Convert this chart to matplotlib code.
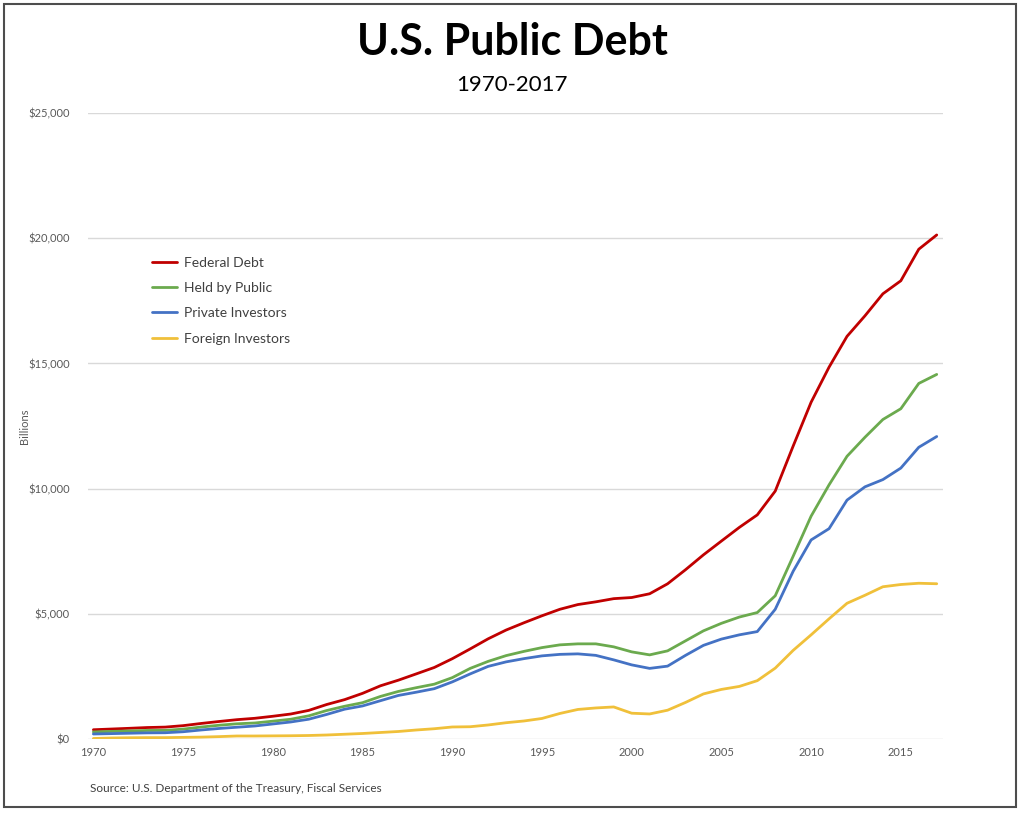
import matplotlib
matplotlib.use("Agg")
import matplotlib.pyplot as plt
from matplotlib.patches import Rectangle
from matplotlib.ticker import FuncFormatter

plt.rcParams['font.family'] = ['Lato', 'DejaVu Sans']

years = list(range(1970, 2018))

federal_debt = [370, 398, 427, 458, 475, 533, 620, 699, 772, 827,
                908, 998, 1142, 1377, 1572, 1823, 2125, 2350, 2602, 2857,
                3206, 3598, 4001, 4351, 4643, 4921, 5181, 5369, 5478, 5605,
                5650, 5800, 6198, 6760, 7355, 7905, 8451, 8951, 9900, 11700,
                13450, 14850, 16080, 16900, 17780, 18300, 19560, 20130]

held_by_public = [283, 303, 322, 341, 344, 395, 477, 549, 607, 640,
                  712, 789, 925, 1137, 1307, 1450, 1700, 1900, 2050, 2190,
                  2450, 2820, 3100, 3330, 3500, 3650, 3760, 3800, 3800, 3680,
                  3480, 3360, 3520, 3920, 4320, 4620, 4870, 5050, 5720, 7300,
                  8900, 10150, 11290, 12050, 12760, 13190, 14200, 14560]

private_investors = [200, 215, 230, 245, 250, 290, 360, 420, 470, 520,
                     600, 680, 790, 980, 1190, 1320, 1530, 1740, 1870, 2010,
                     2280, 2600, 2900, 3080, 3210, 3320, 3380, 3400, 3340, 3160,
                     2960, 2820, 2910, 3340, 3740, 3990, 4160, 4290, 5180, 6700,
                     7950, 8400, 9540, 10070, 10360, 10820, 11650, 12080]

foreign_investors = [20, 40, 50, 55, 55, 65, 75, 95, 120, 120,
                     125, 130, 140, 160, 190, 220, 260, 300, 360, 410,
                     480, 490, 560, 650, 720, 820, 1020, 1180, 1240, 1280,
                     1030, 1000, 1150, 1460, 1800, 1980, 2100, 2330, 2830, 3540,
                     4160, 4800, 5420, 5740, 6080, 6170, 6220, 6200]

series = [
    ("Federal Debt", federal_debt, "#C00000"),
    ("Held by Public", held_by_public, "#6BAA4E"),
    ("Private Investors", private_investors, "#4472C4"),
    ("Foreign Investors", foreign_investors, "#F0C03A"),
]

fig = plt.figure(figsize=(10.24, 8.16), dpi=100)
ax = fig.add_axes([88 / 1024, 1 - 739 / 816, (943 - 88) / 1024, (739 - 113) / 816])

for name, vals, col in series:
    ax.plot(years, vals, color=col, lw=2.0, label=name, solid_capstyle='round')

ax.set_xlim(1969.7, 2017.35)
ax.set_ylim(0, 25000)
ax.set_yticks(range(0, 25001, 5000))
ax.set_xticks(range(1970, 2016, 5))
ax.yaxis.set_major_formatter(FuncFormatter(lambda v, p: "${:,.0f}".format(v)))
ax.grid(axis='y', color='#D9D9D9', lw=1)
ax.set_axisbelow(True)
for s in ax.spines.values():
    s.set_visible(False)
ax.tick_params(axis='both', length=0, labelsize=8, colors='#595959')
ax.tick_params(axis='y', pad=13)
ax.tick_params(axis='x', pad=6)
ax.set_ylabel("Billions", fontsize=8, color='#595959')
ax.yaxis.set_label_coords((30 - 88) / 855, 0.5)

leg = ax.legend(loc='upper left', bbox_to_anchor=(0.06, 0.79), frameon=False,
                fontsize=10, handlelength=1.8, handletextpad=0.55, labelspacing=0.95)
for t in leg.get_texts():
    t.set_color('#404040')

fig.text(0.5, 1 - 42 / 816, "U.S. Public Debt", ha='center', va='center',
         fontsize=31, fontweight='bold', color='black')
fig.text(0.5, 1 - 85 / 816, "1970-2017", ha='center', va='center',
         fontsize=16, color='black')
fig.text(90 / 1024, 1 - 788 / 816, "Source: U.S. Department of the Treasury, Fiscal Services",
         ha='left', va='center', fontsize=8.5, color='#404040')

fig.patches.append(Rectangle((4 / 1024, 1 - 807 / 816), 1012 / 1024, 803 / 816,
                             transform=fig.transFigure, fill=False,
                             edgecolor='#4D4D4D', lw=1.5))

fig.savefig("out.png", dpi=100)
